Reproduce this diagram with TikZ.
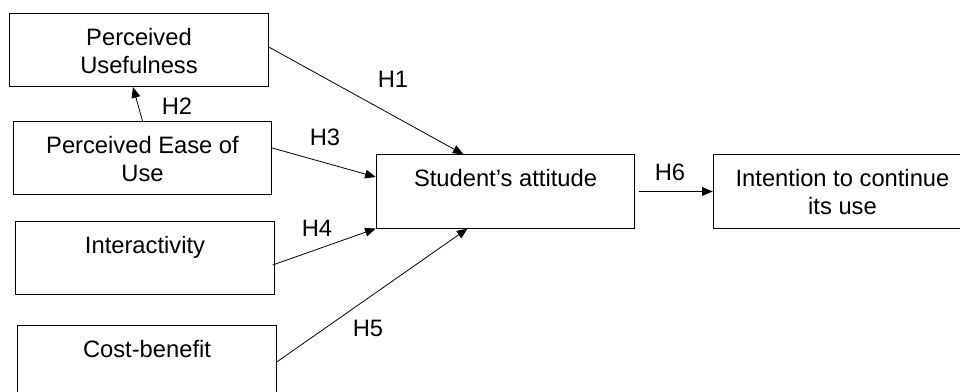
\documentclass[tikz,border=0pt]{standalone}
\usepackage{fontspec}
\setmainfont{Liberation Sans}
\usetikzlibrary{arrows.meta, positioning, calc}

\begin{document}
\begin{tikzpicture}[x=0.75pt, y=-0.75pt, font=\fontsize{17.8}{21}\selectfont,
    box/.style={draw, line width=0.6pt, inner sep=0pt, minimum width=194pt, minimum height=55pt},
    txt/.style={anchor=north, align=center, inner sep=0pt, yshift=-11pt},
    hyp/.style={inner sep=0pt},
    link/.style={-{Triangle[length=8pt, width=6.5pt]}, line width=0.6pt}]
    \useasboundingbox (0,0) rectangle (960,392);

    % Factors on the left
    \node[box, label={[txt]north:Perceived\\Usefulness}] (pu) at (139,50) {};
    \node[box, label={[txt]north:Perceived Ease of\\Use}] (peu) at (142.5,158) {};
    \node[box, label={[txt]north:Interactivity}] (inter) at (145,258) {};
    \node[box, label={[txt]north:Cost-benefit}] (cost) at (147,362) {};

    % Attitude and intention
    \node[box, label={[txt]north:Student’s attitude}] (att) at (505.5,191.5) {};
    \node[box, label={[txt]north:Intention to continue\\its use}] (intent) at (842.5,191.5) {};

    \draw[link] ($(pu.east)+(0,-3)$) -- ($(att.north)+(-42,0)$);
    \draw[link] (peu.north) -- ($(pu.south)+(-6,0)$);
    \draw[link] ($(peu.east)+(0,-10)$) -- ($(att.west)+(0,-14.5)$);
    \draw[link] ($(inter.east)+(-2,7)$) -- (att.south west);
    \draw[link] (cost.east) -- ($(att.south)+(-38,0)$);
    \draw[link] ($(att.east)+(4,0)$) -- (intent.west);

    \node[hyp] (h1) at (393,79) {H1};
    \node[hyp] (h2) at (177,106) {H2};
    \node[hyp] (h3) at (325,137) {H3};
    \node[hyp] (h4) at (317,228) {H4};
    \node[hyp] (h5) at (368,328) {H5};
    \node[hyp] (h6) at (670,172) {H6};
\end{tikzpicture}
\end{document}
